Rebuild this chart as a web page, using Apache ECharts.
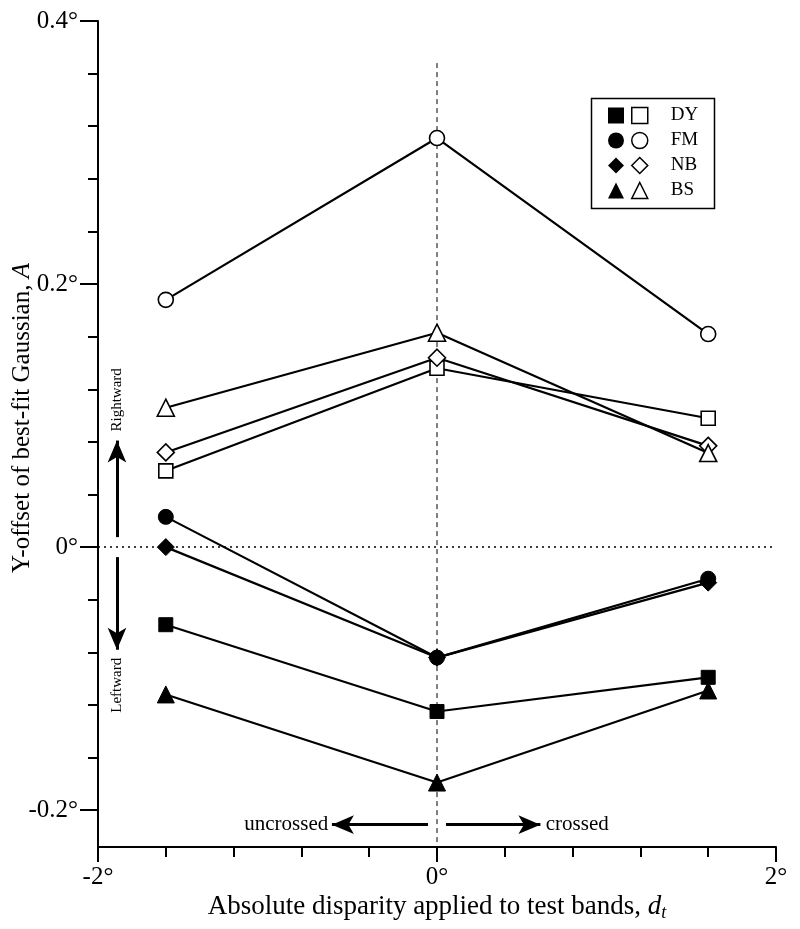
<!DOCTYPE html>
<html>
<head>
<meta charset="utf-8">
<script src="https://cdn.jsdelivr.net/npm/echarts@6/dist/echarts.min.js"></script>
<style>html,body{margin:0;padding:0;background:#fff;}#c{width:800px;height:929px;}</style>
</head>
<body>
<div id="c"></div>
<script>
// ---- data ----
const disparities = [-1.6, 0, 1.6];
const DY_filled = [-0.059, -0.125, -0.099];
const DY_open   = [0.058, 0.136, 0.098];
const FM_filled = [0.023, -0.084, -0.024];
const FM_open   = [0.188, 0.311, 0.162];
const NB_filled = [0.000, -0.084, -0.027];
const NB_open   = [0.072, 0.144, 0.077];
const BS_filled = [-0.112, -0.179, -0.109];
const BS_open   = [0.106, 0.163, 0.0715];
const subjects = ['DY', 'FM', 'NB', 'BS'];
const symbols  = ['rect', 'circle', 'diamond', 'triangle'];
const yMajorTicks = [-0.2, 0, 0.2, 0.4];
const yMinorTicks = [-0.16, -0.12, -0.08, -0.04, 0.04, 0.08, 0.12, 0.16, 0.24, 0.28, 0.32, 0.36];
const yMin = -0.228, yMax = 0.4;
const xMin = -2, xMax = 2;

const FONT = '"Liberation Serif", "DejaVu Serif", serif';
const filledSets = [DY_filled, FM_filled, NB_filled, BS_filled];
const openSets = [DY_open, FM_open, NB_open, BS_open];
const symSizes = [14, 15, 17, 17];

function pts(vals) { return disparities.map((x, i) => [x, vals[i]]); }

const series = [];
// reference lines
series.push({
  type: 'line', data: [[0, 0.368], [0, yMin]], symbol: 'none', silent: true,
  lineStyle: { color: '#000', width: 1, type: [5, 4] }, z: 1
});
series.push({
  type: 'line', data: [[xMin, 0], [xMax, 0]], symbol: 'none', silent: true,
  lineStyle: { color: '#000', width: 1.5, type: [2, 4] }, z: 1
});
subjects.forEach((s, k) => {
  series.push({
    name: s + ' ', type: 'line', data: pts(filledSets[k]),
    symbol: symbols[k], symbolSize: symSizes[k],
    lineStyle: { color: '#000', width: 2.2 },
    itemStyle: { color: '#000', borderColor: '#000', borderWidth: 1 },
    z: 3
  });
  series.push({
    name: s, type: 'line', data: pts(openSets[k]),
    symbol: symbols[k], symbolSize: symSizes[k],
    lineStyle: { color: '#000', width: 2.2 },
    itemStyle: { color: '#fff', borderColor: '#000', borderWidth: 1.6 },
    z: 4
  });
});
// annotations: arrows and text
series.push({
  type: 'line', data: [], silent: true,
  markLine: {
    silent: true, animation: false, symbol: ['none', 'arrow'], symbolSize: [14, 22],
    label: { show: false },
    lineStyle: { color: '#000', width: 3, type: 'solid' },
    data: [
      [{ coord: [-1.888, 0.0076] }, { coord: [-1.888, 0.081] }],
      [{ coord: [-1.888, -0.0076] }, { coord: [-1.888, -0.078] }],
      [{ coord: [-0.053, -0.211] }, { coord: [-0.62, -0.211] }],
      [{ coord: [0.053, -0.211] }, { coord: [0.61, -0.211] }]
    ]
  }
});
const txt = (f, size, extra) => Object.assign({ formatter: f, fontSize: size, color: '#000', fontFamily: FONT, opacity: 1 }, extra);
series.push({
  type: 'scatter', symbolSize: 0, silent: true, z: 5,
  emphasis: { disabled: true },
  label: { show: true, color: '#000', fontFamily: FONT },
  data: [
    { value: [-1.888, 0.112], label: txt('Rightward', 15, { rotate: 90, position: 'inside' }) },
    { value: [-1.888, -0.105], label: txt('Leftward', 15, { rotate: 90, position: 'inside' }) },
    { value: [-0.63, -0.211], label: txt('uncrossed', 21, { position: 'left', distance: 2 }) },
    { value: [0.63, -0.211], label: txt('crossed', 21, { position: 'right', distance: 2 }) }
  ]
});

const legendData = (open) => subjects.map((s, k) => ({
  name: open ? s : s + ' ',
  icon: symbols[k],
  itemStyle: open ? { color: '#fff', borderColor: '#000', borderWidth: 1.5 } : { color: '#000', borderColor: '#000', borderWidth: 0 }
}));
const legendText = (visible) => ({ fontFamily: FONT, fontSize: 19, color: visible ? '#000' : 'rgba(0,0,0,0)', padding: [0, 0, 0, 18] });

const option = {
  animation: false,
  backgroundColor: '#fff',
  grid: { left: 98, right: 24, top: 21, bottom: 82, containLabel: false, outerBoundsMode: 'none' },
  legend: [
    {
      data: legendData(false), left: 603, top: 101, orient: 'vertical', itemWidth: 16, itemHeight: 16,
      itemGap: 6, selectedMode: false, textStyle: legendText(false)
    },
    {
      data: legendData(true), left: 626, top: 101, orient: 'vertical', itemWidth: 16, itemHeight: 16,
      itemGap: 6, selectedMode: false, textStyle: legendText(true)
    }
  ],
  graphic: [
    { type: 'rect', left: 589, top: 96, shape: { width: 123, height: 110 }, style: { fill: 'none', stroke: '#000', lineWidth: 1.5 }, silent: true }
  ],
  xAxis: {
    type: 'value', min: xMin, max: xMax, interval: 2,
    axisLine: { onZero: false, lineStyle: { color: '#000', width: 2 } },
    axisTick: { inside: false, length: 15, lineStyle: { color: '#000', width: 2 } },
    minorTick: { show: true, splitNumber: 5, length: 10, lineStyle: { color: '#000', width: 2 } },
    splitLine: { show: false },
    minorSplitLine: { show: false },
    axisLabel: { color: '#000', fontFamily: FONT, fontSize: 25, margin: 18, formatter: v => v + '°' },
    name: 'Absolute disparity applied to test bands, {i|d}{s|t}',
    nameLocation: 'middle', nameGap: 45, nameMoveOverlap: false,
    nameTextStyle: {
      color: '#000', fontFamily: FONT, fontSize: 27,
      rich: { i: { fontStyle: 'italic', fontFamily: FONT, fontSize: 27, color: '#000' },
              s: { fontStyle: 'italic', fontFamily: FONT, fontSize: 18, color: '#000', verticalAlign: 'bottom', padding: [12, 0, 0, 0] } }
    }
  },
  yAxis: [
    {
      type: 'value', min: yMin, max: yMax, position: 'left',
      axisLine: { show: true, onZero: false, lineStyle: { color: '#000', width: 2 } },
      axisTick: { show: true, length: 18, customValues: yMajorTicks, lineStyle: { color: '#000', width: 2 } },
      axisLabel: { show: true, customValues: yMajorTicks, color: '#000', fontFamily: FONT, fontSize: 25, margin: 20, formatter: v => v + '°' },
      splitLine: { show: false },
      name: 'Y-offset of best-fit Gaussian, {i|A}',
      nameLocation: 'middle', nameGap: 63, nameMoveOverlap: false,
      nameTextStyle: {
        color: '#000', fontFamily: FONT, fontSize: 25, padding: [0, 0, 0, 32],
        rich: { i: { fontStyle: 'italic', fontFamily: FONT, fontSize: 25, color: '#000' } }
      }
    },
    {
      type: 'value', min: yMin, max: yMax, position: 'left',
      axisLine: { show: false, onZero: false },
      axisTick: { show: true, length: 10, customValues: yMinorTicks, lineStyle: { color: '#000', width: 2 } },
      axisLabel: { show: false },
      splitLine: { show: false }
    }
  ],
  series: series
};

const chart = echarts.init(document.getElementById('c'), null, { renderer: 'canvas' });
chart.setOption(option);
</script>
</body>
</html>
